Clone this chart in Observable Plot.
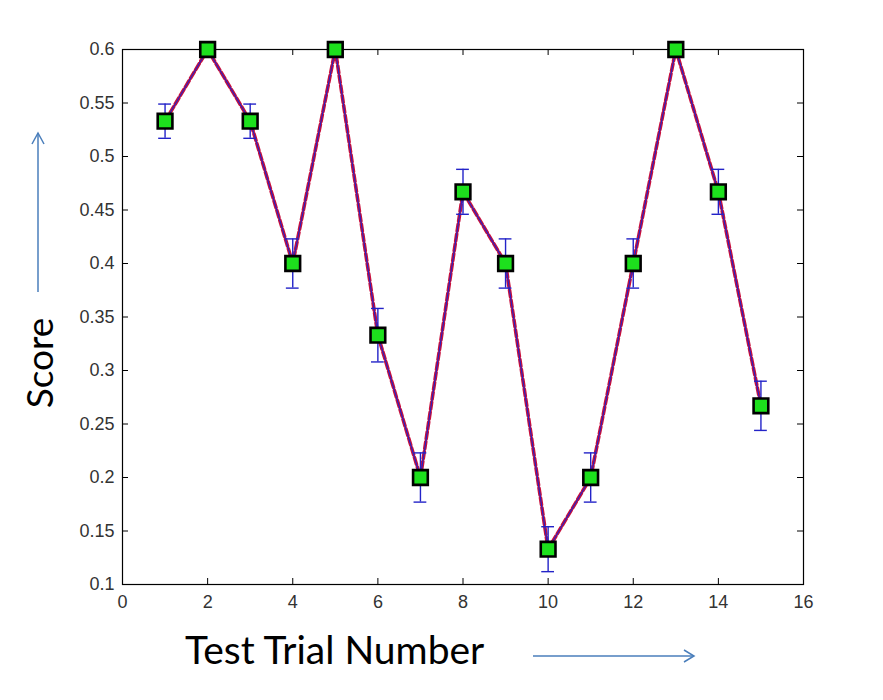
<!DOCTYPE html>
<html>
<head>
<meta charset="utf-8">
<script src="https://cdn.jsdelivr.net/npm/d3@7"></script>
<script src="https://cdn.jsdelivr.net/npm/@observablehq/plot@0.6"></script>
<style>
  html, body { margin: 0; padding: 0; background: #fff; }
  #chart { width: 883px; height: 700px; }
</style>
</head>
<body>
<div id="chart"></div>
<script>
const trials = [1, 2, 3, 4, 5, 6, 7, 8, 9, 10, 11, 12, 13, 14, 15];
const scores = [0.533, 0.6, 0.533, 0.4, 0.6, 0.333, 0.2, 0.467, 0.4, 0.133, 0.2, 0.4, 0.6, 0.467, 0.267];
const errors = [0.016, 0, 0.016, 0.023, 0, 0.025, 0.023, 0.021, 0.023, 0.021, 0.023, 0.023, 0, 0.021, 0.023];
const xTicks = [0, 2, 4, 6, 8, 10, 12, 14, 16];
const yTicks = [0.1, 0.15, 0.2, 0.25, 0.3, 0.35, 0.4, 0.45, 0.5, 0.55, 0.6];
const xTitle = "Test Trial Number";
const yTitle = "Score";

const data = trials.map((t, i) => ({x: t, y: scores[i], e: errors[i]}));
const W = 883, H = 700, mL = 122, mR = 80, mT = 49, mB = 116;
const pw = W - mL - mR, ph = H - mT - mB;
const tickLen = 6;
const capHalf = 0.15;
const blue = "#2323c8";
const red = "#c8103c";

const plot = Plot.plot({
  width: W, height: H,
  marginLeft: mL, marginRight: mR, marginTop: mT, marginBottom: mB,
  style: {fontFamily: "'Liberation Sans', Arial, sans-serif", fontSize: "18px", color: "#333", background: "#fff"},
  x: {domain: [0, 16], ticks: xTicks},
  y: {domain: [0.1, 0.6], ticks: yTicks},
  marks: [
    Plot.axisX({ticks: xTicks, tickSize: 0, tickPadding: 11, label: null, fontSize: 18}),
    Plot.axisY({ticks: yTicks, tickSize: 0, tickPadding: 8, label: null, tickFormat: d => String(d), fontSize: 18}),
    // inward ticks on all four sides
    Plot.tickY(yTicks, {y: d => d, insetRight: pw - tickLen, stroke: "#000"}),
    Plot.tickY(yTicks, {y: d => d, insetLeft: pw - tickLen, stroke: "#000"}),
    Plot.tickX(xTicks, {x: d => d, insetTop: ph - tickLen, stroke: "#000"}),
    Plot.tickX(xTicks, {x: d => d, insetBottom: ph - tickLen, stroke: "#000"}),
    Plot.frame({stroke: "#000", strokeWidth: 1.2}),
    // dashed red series
    Plot.line(data, {x: "x", y: "y", stroke: red, strokeWidth: 3.6, strokeDasharray: "7,3", clip: false}),
    // error bars
    Plot.ruleX(data.filter(d => d.e > 0), {x: "x", y1: d => d.y - d.e, y2: d => d.y + d.e, stroke: blue, strokeWidth: 1.4}),
    Plot.ruleY(data.filter(d => d.e > 0), {y: d => d.y - d.e, x1: d => d.x - capHalf, x2: d => d.x + capHalf, stroke: blue, strokeWidth: 1.4}),
    Plot.ruleY(data.filter(d => d.e > 0), {y: d => d.y + d.e, x1: d => d.x - capHalf, x2: d => d.x + capHalf, stroke: blue, strokeWidth: 1.4}),
    // blue line
    Plot.line(data, {x: "x", y: "y", stroke: blue, strokeWidth: 1.1, clip: false}),
    // markers
    Plot.dot(data, {x: "x", y: "y", symbol: "square", r: 8.3, fill: "#1de01d", stroke: "#000", strokeWidth: 2.6})
  ]
});

document.getElementById("chart").appendChild(plot);

// Axis titles and arrows (annotation overlay)
const svg = d3.select(plot);
const arrowColor = "#4a7ebb";
svg.append("text")
  .attr("x", 185).attr("y", 664)
  .attr("text-anchor", "start")
  .attr("font-family", "Lato, 'Open Sans', sans-serif")
  .attr("font-size", 39)
  .attr("fill", "#000")
  .text(xTitle);
svg.append("text")
  .attr("transform", "translate(53,363) rotate(-90)")
  .attr("text-anchor", "middle")
  .attr("font-family", "Lato, 'Open Sans', sans-serif")
  .attr("font-size", 37)
  .attr("fill", "#000")
  .text(yTitle);
// right arrow
svg.append("line").attr("x1", 533).attr("y1", 656).attr("x2", 694).attr("y2", 656)
  .attr("stroke", arrowColor).attr("stroke-width", 1.5);
svg.append("path").attr("d", "M684,650 L694,656 L684,662").attr("fill", "none")
  .attr("stroke", arrowColor).attr("stroke-width", 1.5);
// up arrow
svg.append("line").attr("x1", 38).attr("y1", 292).attr("x2", 38).attr("y2", 133)
  .attr("stroke", arrowColor).attr("stroke-width", 1.5);
svg.append("path").attr("d", "M32,144 L38,133 L44,144").attr("fill", "none")
  .attr("stroke", arrowColor).attr("stroke-width", 1.5);
</script>
</body>
</html>
